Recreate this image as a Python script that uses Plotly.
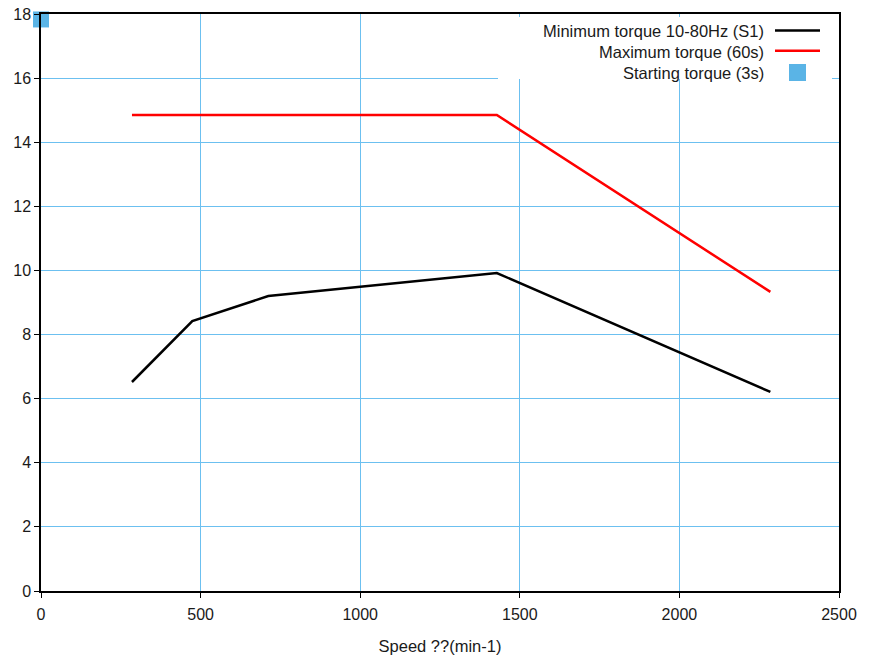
import plotly.graph_objects as go

# Data
min_speed = [285, 474, 712, 1428, 2285]
min_torque = [6.52, 8.42, 9.2, 9.92, 6.21]
max_speed = [285, 1428, 2285]
max_torque = [14.85, 14.85, 9.33]
start_speed = [0]
start_torque = [17.83]

series_names = ["Minimum torque 10-80Hz (S1)", "Maximum torque (60s)", "Starting torque (3s)"]
x_ticks = [0, 500, 1000, 1500, 2000, 2500]
y_ticks = [0, 2, 4, 6, 8, 10, 12, 14, 16, 18]

GRID = "#6cc0f0"
FONT = "Liberation Sans, Arial, sans-serif"
TXT = "#1a1a1a"

fig = go.Figure()
fig.add_trace(go.Scatter(x=min_speed, y=min_torque, mode="lines",
                         line=dict(color="black", width=2.5), name=series_names[0],
                         showlegend=False))
fig.add_trace(go.Scatter(x=max_speed, y=max_torque, mode="lines",
                         line=dict(color="#ff0000", width=2.5), name=series_names[1],
                         showlegend=False))
fig.add_trace(go.Scatter(x=start_speed, y=start_torque, mode="markers",
                         marker=dict(symbol="square", size=16, color="#5ab4e6",
                                     line=dict(width=0)),
                         name=series_names[2], showlegend=False, cliponaxis=False))

L, R, T, B = 41, 34, 14, 64
W, H = 873, 655
pw, ph = W - L - R, H - T - B

def px(xp):
    return (xp - L) / pw

def py(yp):
    return (H - B - yp) / ph

# legend box
fig.add_shape(type="rect", xref="paper", yref="paper",
              x0=px(498), x1=px(832), y0=py(79), y1=py(17),
              fillcolor="white", line=dict(width=0), layer="above")
colors = ["black", "#ff0000"]
text_rows = [31.5, 52.5, 73]
line_rows = [30.5, 50.7]
for i, name in enumerate(series_names):
    fig.add_annotation(xref="paper", yref="paper", x=px(766), y=py(text_rows[i]),
                       text=name, showarrow=False, xanchor="right", yanchor="middle",
                       font=dict(family=FONT, size=16.5, color=TXT))
for i in range(2):
    fig.add_shape(type="line", xref="paper", yref="paper",
                  x0=px(775), x1=px(820), y0=py(line_rows[i]), y1=py(line_rows[i]),
                  line=dict(color=colors[i], width=2.5), layer="above")
fig.add_shape(type="rect", xref="paper", yref="paper",
              x0=px(789), x1=px(806), y0=py(81), y1=py(64),
              fillcolor="#5ab4e6", line=dict(width=0), layer="above")

fig.update_layout(
    width=W, height=H,
    margin=dict(l=L, r=R, t=T, b=B, pad=0),
    plot_bgcolor="white", paper_bgcolor="white",
    font=dict(family=FONT, size=16, color=TXT),
    showlegend=False,
    xaxis=dict(range=[0, 2500], tickvals=x_ticks, showgrid=True, gridcolor=GRID,
               gridwidth=1, zeroline=False, showline=True, linecolor="black",
               linewidth=1.5, mirror=True, ticks="outside", ticklen=5,
               tickcolor="black", layer="above traces", automargin=False,
               ticklabelstandoff=3, tickfont=dict(size=16),
               title=dict(text="Speed ??(min-1)", standoff=22,
                          font=dict(family=FONT, size=16.5, color=TXT))),
    yaxis=dict(range=[0, 18], tickvals=y_ticks, showgrid=True, gridcolor=GRID,
               gridwidth=1, zeroline=False, showline=True, linecolor="black",
               linewidth=1.5, mirror=True, ticks="outside", ticklen=5,
               tickcolor="black", layer="above traces", automargin=False,
               tickfont=dict(size=16)),
)

fig.write_html("out.html", config={"displayModeBar": False},
               post_script="document.body.style.margin='0';document.body.style.overflow='hidden';")
